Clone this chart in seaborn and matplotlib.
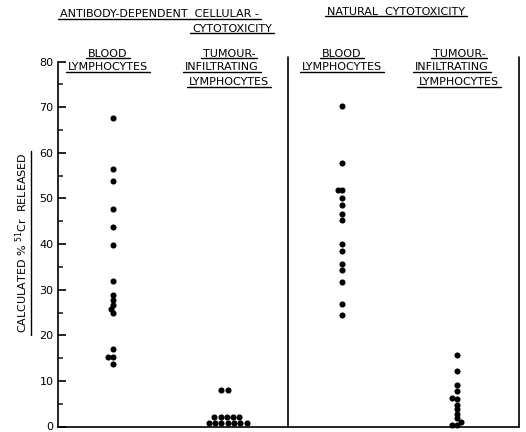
"""
Scatter of calculated % 51Cr release for blood vs tumour-infiltrating lymphocytes.
"""
import matplotlib
matplotlib.use("Agg")
import matplotlib.pyplot as plt
from matplotlib.lines import Line2D
from matplotlib.transforms import IdentityTransform
import seaborn as sns
import pandas as pd

W, H = 526, 432

groups = ["ADCC blood", "ADCC tumour", "NC blood", "NC tumour"]

adcc_blood = [67.7, 56.4, 53.9, 47.6, 43.7, 39.8, 31.8, 28.9, 27.8, 26.7,
              25.7, 24.8, 16.9, 15.2, 15.2, 13.8]
adcc_tumour = [8.0, 8.0, 2.0, 2.0, 2.0, 2.0, 2.0,
               0.7, 0.7, 0.7, 0.7, 0.7, 0.7, 0.7]
nc_blood = [70.2, 57.8, 51.8, 51.8, 50.0, 48.5, 46.5, 45.2, 40.0, 38.5,
            35.6, 34.3, 31.6, 26.8, 24.5]
nc_tumour = [15.6, 12.2, 9.2, 7.8, 6.3, 6.0, 4.8, 3.8, 2.8, 1.8, 1.0, 0.4, 0.4]

y_ticks = [0, 10, 20, 30, 40, 50, 60, 70, 80]

df = pd.concat([
    pd.DataFrame({"group": g, "value": v})
    for g, v in zip(groups, [adcc_blood, adcc_tumour, nc_blood, nc_tumour])
], ignore_index=True)

sns.set_style("ticks")
plt.rcParams["font.family"] = ["DejaVu Sans"]
plt.rcParams["mathtext.default"] = "regular"

y0_px, y80_px = 426.5, 61.7
fig = plt.figure(figsize=(W / 100, H / 100), dpi=100)
ax = fig.add_axes([58.3 / W, (H - y0_px) / H, (519 - 58.3) / W, (y0_px - y80_px) / H])

# swarm laid out with smaller dots where close values stack in the original
tight = df["group"] != "ADCC tumour"
sns.swarmplot(data=df[tight], x="group", y="value", order=groups, color="black",
              size=3.3, linewidth=0, ax=ax)
sns.swarmplot(data=df[~tight], x="group", y="value", order=groups, color="black",
              size=4.3, linewidth=0, ax=ax)

ax.set_xlim(-0.477, 3.54)
ax.set_ylim(0, 80)
ax.set_yticks(y_ticks)
ax.set_yticks(range(5, 80, 10), minor=True)
ax.set_xticks([])
ax.set_xlabel("")
ax.set_ylabel("")
ax.tick_params(axis="y", which="major", direction="in", length=6, width=1.2,
               labelsize=8, pad=3.5, colors="black")
ax.tick_params(axis="y", which="minor", direction="in", length=3.5, width=1.2)
for side in ["top", "right"]:
    ax.spines[side].set_visible(False)
for side in ["left", "bottom"]:
    ax.spines[side].set_linewidth(1.2)
    ax.spines[side].set_color("black")

# divider between the two assays and the right edge line
for xv in [1.526, 3.54]:
    ax.axvline(xv, ymin=0, ymax=1.013, color="black", lw=1.2, clip_on=False)


def put(x, y, s, ha="center", **kw):
    return fig.text(x / W, 1 - y / H, s, ha=ha, va="center", fontsize=8,
                    color="black", **kw)


under = []
under.append(put(60, 14, "ANTIBODY-DEPENDENT  CELLULAR -", ha="left"))
under.append(put(272, 28.5, "CYTOTOXICITY", ha="right"))
under.append(put(396, 11.7, "NATURAL  CYTOTOXICITY"))

for xc in [108, 342]:
    under.append(put(xc, 53.7, "BLOOD"))
    under.append(put(xc, 67, "LYMPHOCYTES"))

for xc in [226, 456]:
    under.append(put(xc + 3, 53.7, "TUMOUR-"))
    under.append(put(xc - 4, 67, "INFILTRATING"))
    under.append(put(xc + 3, 82, "LYMPHOCYTES"))

ylab = fig.text(22 / W, 1 - 243 / H, "CALCULATED % $^{51}$Cr  RELEASED",
                rotation=90, ha="center", va="center", fontsize=8, color="black")

fig.canvas.draw()

# freeze the swarm layout, then draw the dots at their full size
for c in ax.collections:
    if "draw" in c.__dict__:
        del c.draw
    c.set_clip_on(False)
    c.set_sizes([4.4 ** 2])

r = fig.canvas.get_renderer()
for t in under:
    bb = t.get_window_extent(r)
    y = bb.y0 + 0.5
    fig.add_artist(Line2D([bb.x0 - 2, bb.x1 + 2], [y, y], color="black",
                          lw=1.0, transform=IdentityTransform()))
bb = ylab.get_window_extent(r)
fig.add_artist(Line2D([bb.x1 + 0.5, bb.x1 + 0.5], [bb.y0 - 2, bb.y1 + 2],
                      color="black", lw=1.0, transform=IdentityTransform()))

fig.savefig("out.png", dpi=100)
